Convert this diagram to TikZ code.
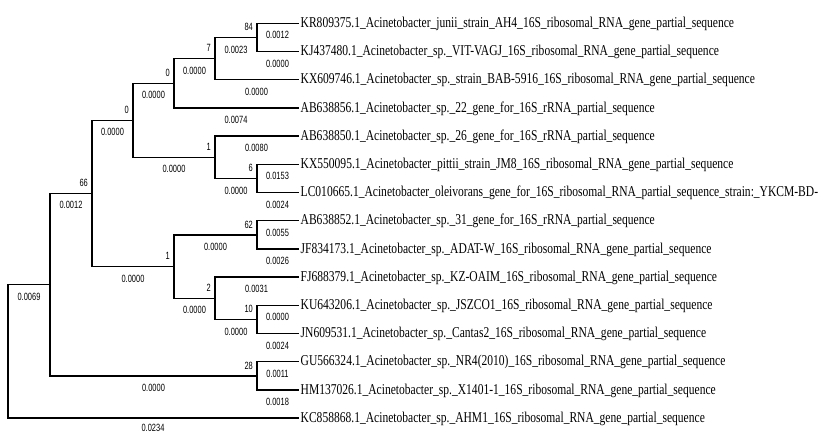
\documentclass[tikz,border=0pt]{standalone}
\usepackage{fontspec}
\usepackage{graphicx}
\setmainfont{Liberation Serif}
\newfontfamily\lblfont{Liberation Sans}
\newcommand\sqz[1]{\scalebox{0.77}[1]{#1}}
\newcommand\nrw[1]{\scalebox{0.71}[1]{#1}}
\tikzset{
  br/.style={line width=1.4pt, line cap=rect},
  blen/.style={font=\lblfont\fontsize{10.5}{12}\selectfont, inner sep=0pt, yshift=-12pt},
  boot/.style={font=\lblfont\fontsize{10.5}{12}\selectfont, anchor=south east, inner sep=0pt, xshift=-4pt, yshift=6.5pt},
  leaf/.style={font=\fontsize{15}{18}\selectfont, anchor=base west, inner sep=0pt, xshift=2.5pt, yshift=-4.2pt}
}
\begin{document}
\begin{tikzpicture}[x=1pt,y=-1pt]
\useasboundingbox (0,0) rectangle (820,434);
% leaves
\coordinate (l0) at (298,23.3);
\coordinate (l1) at (298,51.5);
\coordinate (l2) at (298,79.7);
\coordinate (l3) at (298,107.9);
\coordinate (l4) at (298,136.1);
\coordinate (l5) at (298,164.3);
\coordinate (l6) at (298,192.5);
\coordinate (l7) at (298,220.7);
\coordinate (l8) at (298,248.9);
\coordinate (l9) at (298,277.1);
\coordinate (l10) at (298,305.3);
\coordinate (l11) at (298,333.5);
\coordinate (l12) at (298,361.7);
\coordinate (l13) at (298,389.9);
\coordinate (l14) at (298,418.1);
% internal nodes
\coordinate (n84) at (257,37.4);
\coordinate (n7) at (215,58.55);
\coordinate (n0a) at (174,83.2);
\coordinate (n6) at (257,178.4);
\coordinate (n1a) at (215,157.25);
\coordinate (n0b) at (133,120.2);
\coordinate (n62) at (257,234.8);
\coordinate (n10) at (257,319.4);
\coordinate (n2) at (215,298.25);
\coordinate (n1b) at (174,266.5);
\coordinate (n66) at (92,193.35);
\coordinate (n28) at (257,375.8);
\coordinate (nA) at (50,284.6);
\coordinate (root) at (8,351.35);
% branches
\draw[br] (n84) |- node[pos=0.75,blen]{\nrw{0.0012}} (l0);
\draw[br] (n84) |- node[pos=0.75,blen]{\nrw{0.0000}} (l1);
\draw[br] (n7) |- node[pos=0.75,blen]{\nrw{0.0023}} (n84);
\draw[br] (n7) |- node[pos=0.75,blen]{\nrw{0.0000}} (l2);
\draw[br] (n0a) |- node[pos=0.75,blen]{\nrw{0.0000}} (n7);
\draw[br] (n0a) |- node[pos=0.75,blen]{\nrw{0.0074}} (l3);
\draw[br] (n0b) |- node[pos=0.75,blen]{\nrw{0.0000}} (n0a);
\draw[br] (n1a) |- node[pos=0.75,blen]{\nrw{0.0080}} (l4);
\draw[br] (n6) |- node[pos=0.75,blen]{\nrw{0.0153}} (l5);
\draw[br] (n6) |- node[pos=0.75,blen]{\nrw{0.0024}} (l6);
\draw[br] (n1a) |- node[pos=0.75,blen]{\nrw{0.0000}} (n6);
\draw[br] (n0b) |- node[pos=0.75,blen]{\nrw{0.0000}} (n1a);
\draw[br] (n66) |- node[pos=0.75,blen]{\nrw{0.0000}} (n0b);
\draw[br] (n62) |- node[pos=0.75,blen]{\nrw{0.0055}} (l7);
\draw[br] (n62) |- node[pos=0.75,blen]{\nrw{0.0026}} (l8);
\draw[br] (n1b) |- node[pos=0.75,blen]{\nrw{0.0000}} (n62);
\draw[br] (n2) |- node[pos=0.75,blen]{\nrw{0.0031}} (l9);
\draw[br] (n10) |- node[pos=0.75,blen]{\nrw{0.0000}} (l10);
\draw[br] (n10) |- node[pos=0.75,blen]{\nrw{0.0024}} (l11);
\draw[br] (n2) |- node[pos=0.75,blen]{\nrw{0.0000}} (n10);
\draw[br] (n1b) |- node[pos=0.75,blen]{\nrw{0.0000}} (n2);
\draw[br] (n66) |- node[pos=0.75,blen]{\nrw{0.0000}} (n1b);
\draw[br] (nA) |- node[pos=0.75,blen]{\nrw{0.0012}} (n66);
\draw[br] (n28) |- node[pos=0.75,blen]{\nrw{0.0011}} (l12);
\draw[br] (n28) |- node[pos=0.75,blen]{\nrw{0.0018}} (l13);
\draw[br] (nA) |- node[pos=0.75,blen]{\nrw{0.0000}} (n28);
\draw[br] (root) |- node[pos=0.75,blen]{\nrw{0.0069}} (nA);
\draw[br] (root) |- node[pos=0.75,blen,yshift=2pt]{\nrw{0.0234}} (l14);
% bootstrap values
\node[boot] (b84) at (n84) {\nrw{84}};
\node[boot] (b7) at (n7) {\nrw{7}};
\node[boot] (b0a) at (n0a) {\nrw{0}};
\node[boot] (b0b) at (n0b) {\nrw{0}};
\node[boot] (b66) at (n66) {\nrw{66}};
\node[boot] (b1a) at (n1a) {\nrw{1}};
\node[boot] (b6) at (n6) {\nrw{6}};
\node[boot] (b1b) at (n1b) {\nrw{1}};
\node[boot] (b62) at (n62) {\nrw{62}};
\node[boot] (b2) at (n2) {\nrw{2}};
\node[boot] (b10) at (n10) {\nrw{10}};
\node[boot] (b28) at (n28) {\nrw{28}};
% leaf names
\node[leaf] (t0) at (l0) {\sqz{KR809375.1\_Acinetobacter\_junii\_strain\_AH4\_16S\_ribosomal\_RNA\_gene\_partial\_sequence}};
\node[leaf] (t1) at (l1) {\sqz{KJ437480.1\_Acinetobacter\_sp.\_VIT-VAGJ\_16S\_ribosomal\_RNA\_gene\_partial\_sequence}};
\node[leaf] (t2) at (l2) {\sqz{KX609746.1\_Acinetobacter\_sp.\_strain\_BAB-5916\_16S\_ribosomal\_RNA\_gene\_partial\_sequence}};
\node[leaf] (t3) at (l3) {\sqz{AB638856.1\_Acinetobacter\_sp.\_22\_gene\_for\_16S\_rRNA\_partial\_sequence}};
\node[leaf] (t4) at (l4) {\sqz{AB638850.1\_Acinetobacter\_sp.\_26\_gene\_for\_16S\_rRNA\_partial\_sequence}};
\node[leaf] (t5) at (l5) {\sqz{KX550095.1\_Acinetobacter\_pittii\_strain\_JM8\_16S\_ribosomal\_RNA\_gene\_partial\_sequence}};
\node[leaf] (t6) at (l6) {\sqz{LC010665.1\_Acinetobacter\_oleivorans\_gene\_for\_16S\_ribosomal\_RNA\_partial\_sequence\_strain:\_YKCM-BD-}};
\node[leaf] (t7) at (l7) {\sqz{AB638852.1\_Acinetobacter\_sp.\_31\_gene\_for\_16S\_rRNA\_partial\_sequence}};
\node[leaf] (t8) at (l8) {\sqz{JF834173.1\_Acinetobacter\_sp.\_ADAT-W\_16S\_ribosomal\_RNA\_gene\_partial\_sequence}};
\node[leaf] (t9) at (l9) {\sqz{FJ688379.1\_Acinetobacter\_sp.\_KZ-OAIM\_16S\_ribosomal\_RNA\_gene\_partial\_sequence}};
\node[leaf] (t10) at (l10) {\sqz{KU643206.1\_Acinetobacter\_sp.\_JSZCO1\_16S\_ribosomal\_RNA\_gene\_partial\_sequence}};
\node[leaf] (t11) at (l11) {\sqz{JN609531.1\_Acinetobacter\_sp.\_Cantas2\_16S\_ribosomal\_RNA\_gene\_partial\_sequence}};
\node[leaf] (t12) at (l12) {\sqz{GU566324.1\_Acinetobacter\_sp.\_NR4(2010)\_16S\_ribosomal\_RNA\_gene\_partial\_sequence}};
\node[leaf] (t13) at (l13) {\sqz{HM137026.1\_Acinetobacter\_sp.\_X1401-1\_16S\_ribosomal\_RNA\_gene\_partial\_sequence}};
\node[leaf] (t14) at (l14) {\sqz{KC858868.1\_Acinetobacter\_sp.\_AHM1\_16S\_ribosomal\_RNA\_gene\_partial\_sequence}};
\end{tikzpicture}
\end{document}
